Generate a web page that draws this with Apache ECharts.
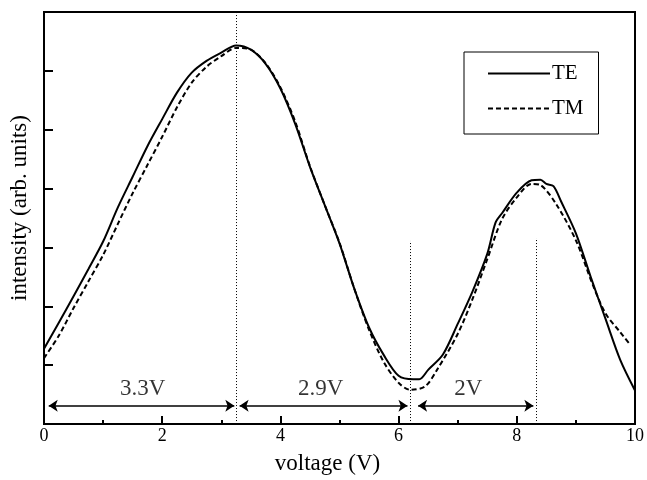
<!DOCTYPE html>
<html>
<head>
<meta charset="utf-8">
<script src="https://cdn.jsdelivr.net/npm/echarts@6/dist/echarts.min.js"></script>
<style>
  html, body { margin: 0; padding: 0; background: #fff; }
</style>
</head>
<body>
<div id="main" style="width: 647px; height: 480px"></div>
<script>
// TE curve (solid)
var teVolt = [0, 0.25, 0.5, 0.75, 1.0, 1.25, 1.5, 1.75, 2.0, 2.25, 2.5, 2.75, 3.0, 3.25, 3.5, 3.75, 4.0, 4.25, 4.5, 4.75, 5.0, 5.25, 5.5, 5.75, 6.0, 6.25, 6.35, 6.5, 6.75, 7.0, 7.25, 7.5, 7.64, 7.75, 8.0, 8.25, 8.4, 8.5, 8.62, 8.75, 9.0, 9.25, 9.5, 9.75, 10];
var teVals = [1.28, 1.72, 2.17, 2.63, 3.1, 3.68, 4.2, 4.72, 5.18, 5.63, 5.97, 6.17, 6.31, 6.43, 6.36, 6.12, 5.7, 5.1, 4.37, 3.72, 3.07, 2.3, 1.64, 1.17, 0.82, 0.76, 0.76, 0.92, 1.18, 1.7, 2.25, 2.89, 3.42, 3.58, 3.93, 4.14, 4.15, 4.08, 4.04, 3.78, 3.24, 2.5, 1.79, 1.09, 0.57];

// TM curve (dashed)
var tmVolt = [0, 0.25, 0.5, 0.75, 1.0, 1.25, 1.5, 1.75, 2.0, 2.25, 2.5, 2.75, 3.0, 3.25, 3.5, 3.75, 4.0, 4.25, 4.5, 4.75, 5.0, 5.25, 5.5, 5.75, 6.0, 6.2, 6.45, 6.65, 7.0, 7.25, 7.5, 7.75, 8.0, 8.25, 8.4, 8.67, 9.0, 9.28, 9.5, 9.75, 9.9];
var tmVals = [1.12, 1.5, 1.97, 2.42, 2.87, 3.4, 3.92, 4.4, 4.88, 5.38, 5.8, 6.07, 6.25, 6.39, 6.36, 6.13, 5.72, 5.14, 4.38, 3.72, 3.08, 2.3, 1.6, 1.05, 0.7, 0.58, 0.64, 0.92, 1.53, 2.12, 2.8, 3.48, 3.85, 4.08, 4.06, 3.73, 3.12, 2.38, 1.88, 1.56, 1.37];

// dotted guide lines
var guideX = [3.26, 6.2, 8.33];
var guideTop = [7, 3.11, 3.16];

// double arrows + labels
var arrowStart = [0.08, 3.31, 6.33];
var arrowEnd = [3.22, 6.15, 8.28];
var arrowY = 0.31;
var noteX = [1.67, 4.68, 7.18];
var noteY = 0.6;
var noteText = ['3.3V', '2.9V', '2V'];

var xTicks = [0, 2, 4, 6, 8, 10];

function pairs(xs, ys) {
  var out = [];
  for (var i = 0; i < xs.length; i++) out.push([xs[i], ys[i]]);
  return out;
}

var serif = 'Liberation Serif';
var chartDom = document.getElementById('main');
var myChart = echarts.init(chartDom);

var guides = [];
for (var i = 0; i < guideX.length; i++) {
  guides.push({ coords: [[guideX[i], 0.05], [guideX[i], guideTop[i]]] });
}
var arrows = [];
for (var j = 0; j < arrowStart.length; j++) {
  arrows.push({ coords: [[arrowStart[j], arrowY], [arrowEnd[j], arrowY]] });
}
var notes = [];
for (var k = 0; k < noteX.length; k++) {
  notes.push({ value: [noteX[k], noteY], name: noteText[k] });
}

var option = {
  animation: false,
  textStyle: { fontFamily: serif, color: '#000' },
  grid: {
    left: 43, right: 7, top: 12, bottom: 52,
    show: true, borderColor: '#000', borderWidth: 2
  },
  legend: {
    data: ['TE', 'TM'],
    orient: 'vertical',
    left: 464, top: 52,
    padding: [11, 15, 15, 23],
    itemWidth: 62, itemHeight: 20, itemGap: 14,
    itemStyle: { opacity: 0 },
    borderColor: '#000', borderWidth: 1,
    textStyle: { fontFamily: serif, fontSize: 21, color: '#000', padding: [0, 0, 0, -3] }
  },
  xAxis: {
    type: 'value', min: 0, max: 10, interval: 2,
    name: 'voltage (V)', nameLocation: 'middle', nameGap: 28,
    nameTextStyle: { fontFamily: serif, fontSize: 23, color: '#000', padding: [0, 24, 0, 0] },
    axisLine: { show: true, onZero: false, lineStyle: { color: '#000', width: 2 } },
    axisTick: { show: true, inside: true, length: 8, lineStyle: { color: '#000', width: 2 } },
    minorTick: { show: true, splitNumber: 2, length: 4, lineStyle: { color: '#000', width: 2 } },
    splitLine: { show: false },
    axisLabel: {
      fontFamily: serif, fontSize: 18, color: '#000', margin: 3,
      formatter: function (v) { return xTicks.indexOf(v) >= 0 ? String(v) : ''; }
    }
  },
  yAxis: {
    type: 'value', min: 0, max: 7, interval: 1,
    name: 'intensity (arb. units)', nameLocation: 'middle', nameGap: 13,
    nameTextStyle: { fontFamily: serif, fontSize: 23, color: '#000', padding: [0, 0, 0, 20] },
    axisLine: { show: true, onZero: false, lineStyle: { color: '#000', width: 2 } },
    axisTick: { show: true, inside: true, length: 9, lineStyle: { color: '#000', width: 2 } },
    splitLine: { show: false },
    axisLabel: { show: false }
  },
  series: [
    {
      name: 'TE', type: 'line', data: pairs(teVolt, teVals),
      symbol: 'none', smooth: 0.3,
      lineStyle: { color: '#000', width: 2, type: 'solid' },
      itemStyle: { color: '#000' }
    },
    {
      name: 'TM', type: 'line', data: pairs(tmVolt, tmVals),
      symbol: 'none', smooth: 0.3,
      lineStyle: { color: '#000', width: 2, type: [5, 3] },
      itemStyle: { color: '#000' }
    },
    {
      name: 'guides', type: 'lines', coordinateSystem: 'cartesian2d',
      data: guides, symbol: 'none',
      lineStyle: { color: '#000', width: 1, type: [1, 2], opacity: 1 }
    },
    {
      name: 'arrows', type: 'lines', coordinateSystem: 'cartesian2d',
      data: arrows, symbol: ['arrow', 'arrow'], symbolSize: 9,
      lineStyle: { color: '#000', width: 1.5, opacity: 1 }
    },
    {
      name: 'notes', type: 'scatter', data: notes, symbolSize: 0,
      label: {
        show: true, position: 'inside', formatter: '{b}',
        fontFamily: serif, fontSize: 23, color: '#000'
      }
    }
  ]
};

myChart.setOption(option);
window.addEventListener('resize', function () {
  myChart.resize();
});
</script>
</body>
</html>
